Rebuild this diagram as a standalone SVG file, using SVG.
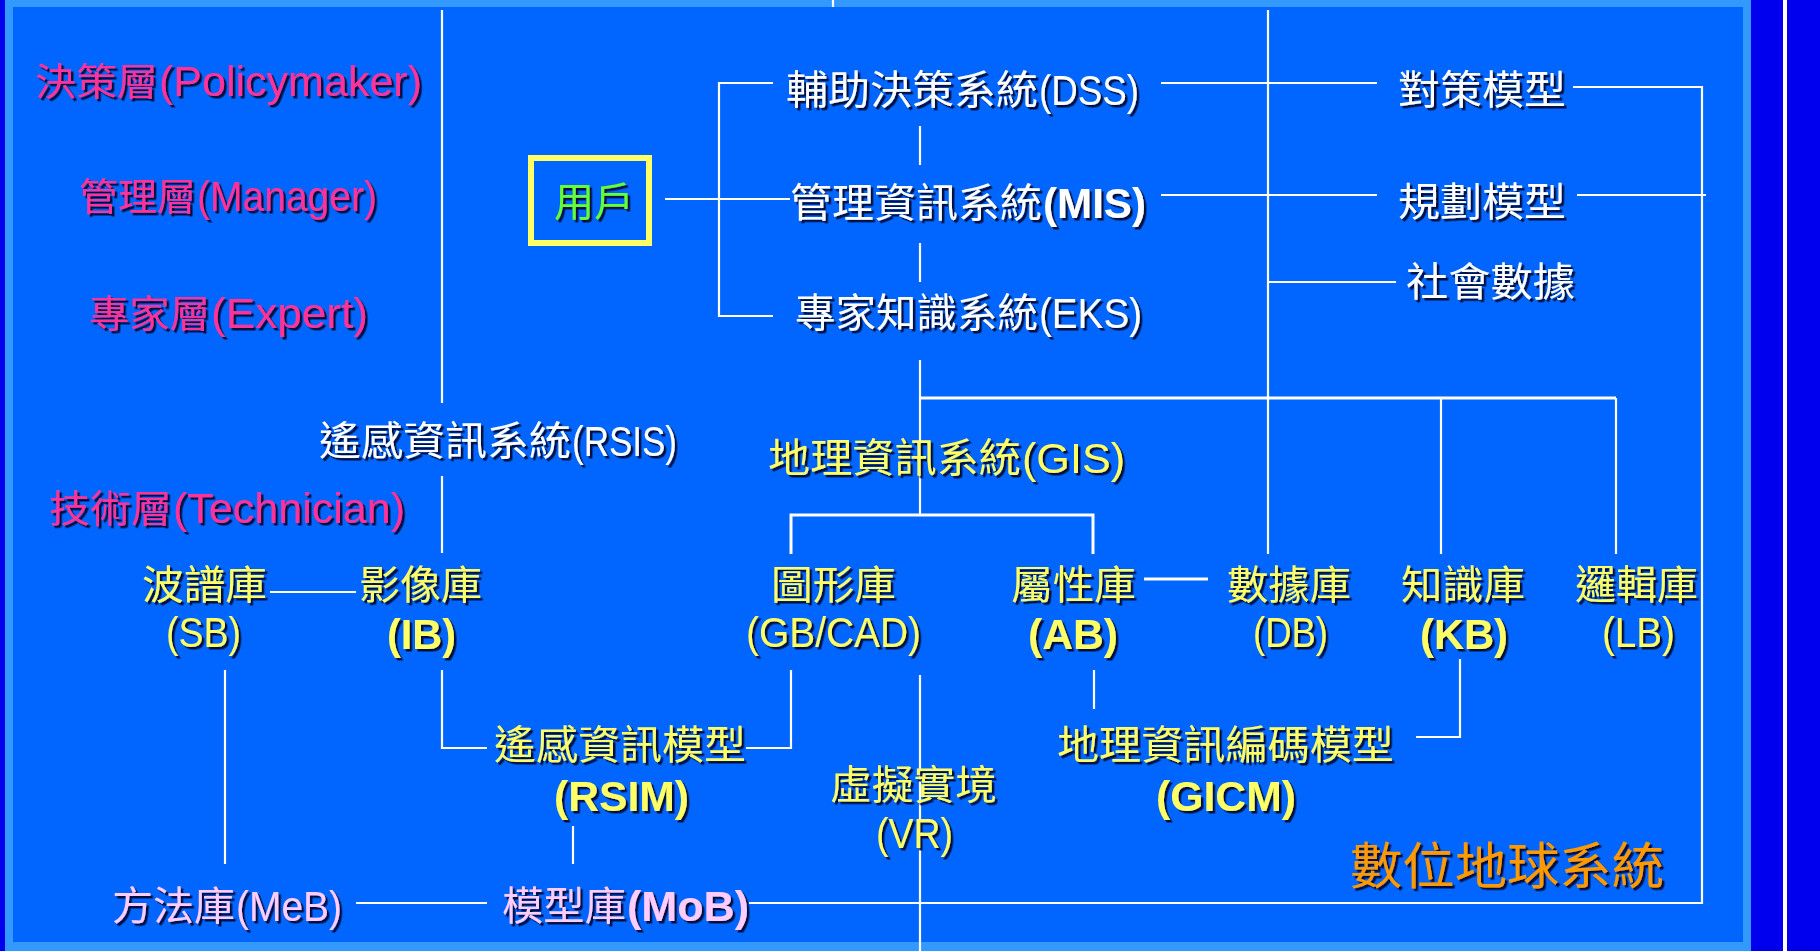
<svg xmlns="http://www.w3.org/2000/svg" width="1820" height="951" viewBox="0 0 1820 951">
<defs>
<filter id="sh" x="-10%" y="-30%" width="130%" height="160%">
<feDropShadow dx="2.5" dy="2.5" stdDeviation="0.6" flood-color="#000022" flood-opacity="0.85"/>
</filter>
<style>
.t{font-family:"Noto Sans CJK TC","Noto Sans CJK SC",sans-serif;font-size:40px;filter:url(#sh)}
.pk{fill:#ff3399;font-size:38px}
.wh{fill:#ffffff}
.ye{fill:#ffff66}
.lp{fill:#ffccff}
.gr{fill:#66ff33}
.or{fill:#ff9900;font-size:50px}
.b{font-family:"Liberation Sans",Arial,sans-serif;font-weight:bold;font-size:42px}
.n{font-family:"Liberation Sans",Arial,sans-serif;font-size:42px}
.ln{stroke:#ffffff;stroke-width:2.2;fill:none}
</style>
</defs>
<rect x="0" y="0" width="1820" height="951" fill="#0000ee"/>
<rect x="5" y="0" width="1746" height="951" fill="#3399ff"/>
<rect x="13" y="7" width="1730" height="935" fill="#0066ff"/>
<rect x="1783" y="0" width="4" height="951" fill="#ffffff"/>

<g id="connectors" class="ln">
<line x1="833" y1="0" x2="833" y2="7"/>
<line x1="442" y1="10" x2="442" y2="403"/>
<line x1="442" y1="476" x2="442" y2="553"/>
<line x1="270" y1="592" x2="356" y2="592"/>
<line x1="665" y1="199" x2="790" y2="199"/>
<polyline points="773,83 719,83 719,316 773,316"/>
<line x1="920" y1="126" x2="920" y2="165"/>
<line x1="920" y1="243" x2="920" y2="282"/>
<line x1="920" y1="360" x2="920" y2="515"/>
<line x1="920" y1="398" x2="1616" y2="398" stroke-width="3"/>
<line x1="1441" y1="398" x2="1441" y2="554"/>
<line x1="1616" y1="398" x2="1616" y2="554"/>
<line x1="1268" y1="10" x2="1268" y2="554"/>
<line x1="1161" y1="83" x2="1377" y2="83"/>
<line x1="1161" y1="195" x2="1377" y2="195"/>
<line x1="1268" y1="282" x2="1396" y2="282"/>
<polyline points="1573,87 1702,87 1702,903 749,903"/>
<line x1="1577" y1="195" x2="1706" y2="195"/>
<polyline points="791,554 791,515 1093,515 1093,554" stroke-width="3"/>
<line x1="1144" y1="579" x2="1208" y2="579" stroke-width="3"/>
<line x1="225" y1="670" x2="225" y2="864"/>
<polyline points="442,670 442,748 487,748"/>
<polyline points="746,748 791,748 791,670"/>
<line x1="573" y1="826" x2="573" y2="864"/>
<line x1="356" y1="903" x2="487" y2="903"/>
<line x1="920" y1="675" x2="920" y2="951"/>
<line x1="1094" y1="670" x2="1094" y2="709"/>
<polyline points="1460,659 1460,737 1416,737"/>
</g>

<g id="layer-policymaker"><text class="t pk" x="35" y="95" textLength="123" lengthAdjust="spacingAndGlyphs">決策層</text><text class="t pk n" x="159" y="96" textLength="263" lengthAdjust="spacingAndGlyphs">(Policymaker)</text></g>
<g id="layer-manager"><text class="t pk" x="79" y="210" textLength="117" lengthAdjust="spacingAndGlyphs">管理層</text><text class="t pk n" x="197" y="211" textLength="180" lengthAdjust="spacingAndGlyphs">(Manager)</text></g>
<g id="layer-expert"><text class="t pk" x="89" y="327" textLength="121" lengthAdjust="spacingAndGlyphs">專家層</text><text class="t pk n" x="211" y="328" textLength="157" lengthAdjust="spacingAndGlyphs">(Expert)</text></g>
<g id="layer-technician"><text class="t pk" x="49" y="522" textLength="123" lengthAdjust="spacingAndGlyphs">技術層</text><text class="t pk n" x="173" y="523" textLength="232" lengthAdjust="spacingAndGlyphs">(Technician)</text></g>

<g id="user">
<rect x="531" y="158" width="118" height="85" fill="none" stroke="#ffff66" stroke-width="6"/>
<text class="t gr" x="554" y="216" textLength="80" lengthAdjust="spacingAndGlyphs">用戶</text>
</g>

<g id="dss"><text class="t wh" x="786" y="104" textLength="252" lengthAdjust="spacingAndGlyphs">輔助決策系統</text><text class="t wh n" x="1039" y="105" textLength="100" lengthAdjust="spacingAndGlyphs">(DSS)</text></g>
<g id="mis"><text class="t wh" x="790" y="217" textLength="252" lengthAdjust="spacingAndGlyphs">管理資訊系統</text><text class="t wh b" x="1043" y="218" textLength="103" lengthAdjust="spacingAndGlyphs">(MIS)</text></g>
<g id="eks"><text class="t wh" x="795" y="327" textLength="243" lengthAdjust="spacingAndGlyphs">專家知識系統</text><text class="t wh n" x="1039" y="328" textLength="103" lengthAdjust="spacingAndGlyphs">(EKS)</text></g>
<g id="countermeasure"><text class="t wh" x="1398" y="104" textLength="168" lengthAdjust="spacingAndGlyphs">對策模型</text></g>
<g id="planning"><text class="t wh" x="1398" y="216" textLength="168" lengthAdjust="spacingAndGlyphs">規劃模型</text></g>
<g id="social"><text class="t wh" x="1406" y="296" textLength="169" lengthAdjust="spacingAndGlyphs">社會數據</text></g>
<g id="rsis"><text class="t wh" x="319" y="455" textLength="252" lengthAdjust="spacingAndGlyphs">遙感資訊系統</text><text class="t wh n" x="572" y="456" textLength="105" lengthAdjust="spacingAndGlyphs">(RSIS)</text></g>
<g id="gis"><text class="t ye" x="768" y="472" textLength="253" lengthAdjust="spacingAndGlyphs">地理資訊系統</text><text class="t ye n" x="1022" y="473" textLength="103" lengthAdjust="spacingAndGlyphs">(GIS)</text></g>

<g id="sb"><text class="t ye" x="142" y="599" textLength="125" lengthAdjust="spacingAndGlyphs">波譜庫</text><text class="t ye n" x="166" y="647" textLength="75" lengthAdjust="spacingAndGlyphs">(SB)</text></g>
<g id="ib"><text class="t ye" x="359" y="599" textLength="123" lengthAdjust="spacingAndGlyphs">影像庫</text><text class="t ye b" x="387" y="649" textLength="69" lengthAdjust="spacingAndGlyphs">(IB)</text></g>
<g id="gb"><text class="t ye" x="771" y="599" textLength="125" lengthAdjust="spacingAndGlyphs">圖形庫</text><text class="t ye n" x="746" y="647" textLength="175" lengthAdjust="spacingAndGlyphs">(GB/CAD)</text></g>
<g id="ab"><text class="t ye" x="1011" y="599" textLength="125" lengthAdjust="spacingAndGlyphs">屬性庫</text><text class="t ye b" x="1028" y="649" textLength="90" lengthAdjust="spacingAndGlyphs">(AB)</text></g>
<g id="db"><text class="t ye" x="1227" y="599" textLength="124" lengthAdjust="spacingAndGlyphs">數據庫</text><text class="t ye n" x="1253" y="647" textLength="75" lengthAdjust="spacingAndGlyphs">(DB)</text></g>
<g id="kb"><text class="t ye" x="1401" y="599" textLength="124" lengthAdjust="spacingAndGlyphs">知識庫</text><text class="t ye b" x="1420" y="649" textLength="88" lengthAdjust="spacingAndGlyphs">(KB)</text></g>
<g id="lb"><text class="t ye" x="1575" y="599" textLength="123" lengthAdjust="spacingAndGlyphs">邏輯庫</text><text class="t ye n" x="1602" y="647" textLength="73" lengthAdjust="spacingAndGlyphs">(LB)</text></g>

<g id="rsim"><text class="t ye" x="494" y="759" textLength="252" lengthAdjust="spacingAndGlyphs">遙感資訊模型</text><text class="t ye b" x="554" y="811" textLength="135" lengthAdjust="spacingAndGlyphs">(RSIM)</text></g>
<g id="gicm"><text class="t ye" x="1057" y="759" textLength="337" lengthAdjust="spacingAndGlyphs">地理資訊編碼模型</text><text class="t ye b" x="1156" y="811" textLength="140" lengthAdjust="spacingAndGlyphs">(GICM)</text></g>
<g id="vr"><text class="t ye" x="830" y="799" textLength="167" lengthAdjust="spacingAndGlyphs">虛擬實境</text><text class="t ye n" x="876" y="848" textLength="77" lengthAdjust="spacingAndGlyphs">(VR)</text></g>

<g id="meb"><text class="t lp" x="112" y="920" textLength="123" lengthAdjust="spacingAndGlyphs">方法庫</text><text class="t lp n" x="236" y="921" textLength="106" lengthAdjust="spacingAndGlyphs">(MeB)</text></g>
<g id="mob"><text class="t lp" x="502" y="920" textLength="124" lengthAdjust="spacingAndGlyphs">模型庫</text><text class="t lp b" x="627" y="921" textLength="122" lengthAdjust="spacingAndGlyphs">(MoB)</text></g>

<g id="title"><text class="t or" x="1350" y="884" textLength="314" lengthAdjust="spacingAndGlyphs">數位地球系統</text></g>
</svg>
